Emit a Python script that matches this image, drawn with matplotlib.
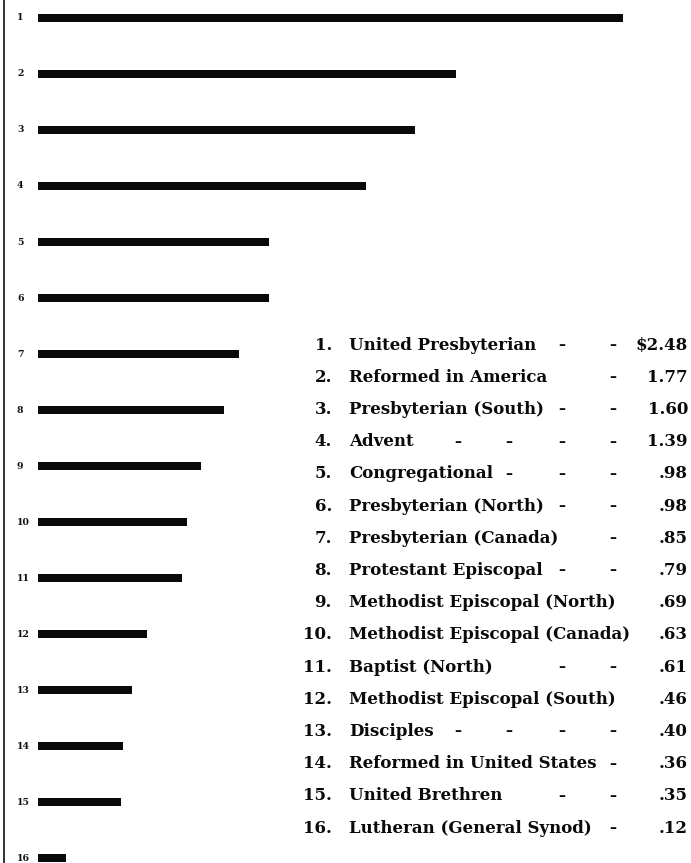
import matplotlib
matplotlib.use("Agg")
import matplotlib.pyplot as plt

ranks = list(range(1, 17))
names = ["United Presbyterian", "Reformed in America", "Presbyterian (South)",
         "Advent", "Congregational", "Presbyterian (North)", "Presbyterian (Canada)",
         "Protestant Episcopal", "Methodist Episcopal (North)",
         "Methodist Episcopal (Canada)", "Baptist (North)",
         "Methodist Episcopal (South)", "Disciples", "Reformed in United States",
         "United Brethren", "Lutheran (General Synod)"]
values = [2.48, 1.77, 1.60, 1.39, 0.98, 0.98, 0.85, 0.79, 0.69, 0.63, 0.61,
          0.46, 0.40, 0.36, 0.35, 0.12]
value_labels = ["$2.48", "1.77", "1.60", "1.39", ".98", ".98", ".85", ".79",
                ".69", ".63", ".61", ".46", ".40", ".36", ".35", ".12"]
dash_counts = [2, 1, 2, 4, 3, 2, 1, 2, 0, 0, 2, 0, 4, 1, 2, 1]

W, H, DPI = 691, 863, 100
fig = plt.figure(figsize=(W / DPI, H / DPI), dpi=DPI)
fig.patch.set_facecolor("white")

# bar axes (full figure)
k = (623 - 38) / 2.48           # px per unit
row_px = 56.0
ax = fig.add_axes([0, 0, 1, 1])
ax.set_xlim(-38 / k, (W - 38) / k)
ax.set_ylim(1 + (H - 18) / row_px, 1 - 18 / row_px)
ax.barh(ranks, values, height=8 / row_px, left=0, color="#0a0a0a", edgecolor="none")
ax.axis("off")

# overlay axes in pixel units for rank labels, axis line, table
ov = fig.add_axes([0, 0, 1, 1], facecolor="none")
ov.set_xlim(0, W)
ov.set_ylim(H, 0)
ov.axis("off")
ov.plot([4, 4], [0, H], color="#222222", lw=1.3)

serif = ["DejaVu Serif"]
for r in ranks:
    ypix = 18 + row_px * (r - 1)
    ov.text(17, ypix, str(r), ha="left", va="center", fontsize=7.5,
            fontweight="bold", family=serif, color="#111111",
            fontstretch="condensed")

fs = 12
dash_cols = [458, 509, 562, 613]
row0, drow = 345, 32.2
for i, (r, n, vl, dc) in enumerate(zip(ranks, names, value_labels, dash_counts)):
    y = row0 + drow * i
    ov.text(332, y, f"{r}.", ha="right", va="center", fontsize=fs,
            fontweight="bold", family=serif, color="#0a0a0a")
    ov.text(349, y, n, ha="left", va="center", fontsize=fs,
            fontweight="bold", family=serif, color="#0a0a0a")
    for c in dash_cols[len(dash_cols) - dc:]:
        ov.text(c, y, "–", ha="center", va="center", fontsize=fs - 2,
                fontweight="bold", family=serif, color="#0a0a0a")
    ov.text(688, y, vl, ha="right", va="center", fontsize=fs,
            fontweight="bold", family=serif, color="#0a0a0a")

fig.savefig("out.png", dpi=DPI, facecolor="white")
